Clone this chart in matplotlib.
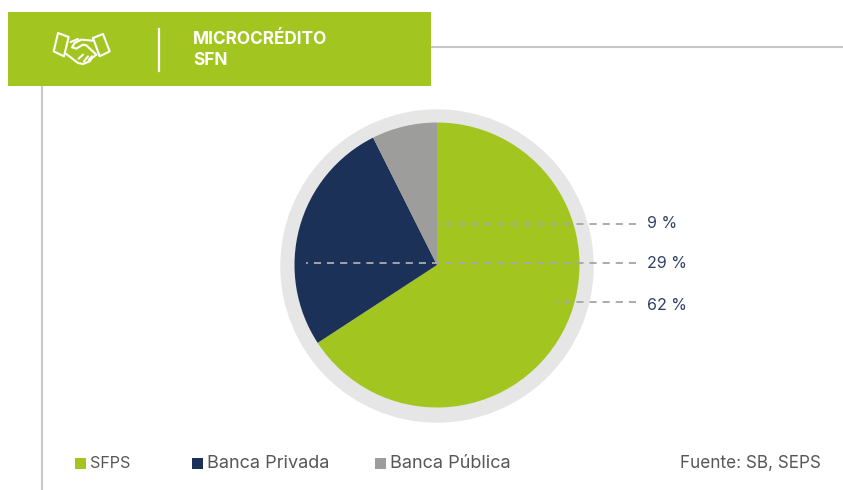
import matplotlib
matplotlib.use("Agg")
import matplotlib.pyplot as plt
from matplotlib.patches import Circle, Rectangle

plt.rcParams['font.family'] = ['Inter', 'DejaVu Sans']

# wedge shares as drawn in the picture (they differ from the printed labels)
categories = ["SFPS", "Banca Privada", "Banca Pública"]
shares = [65.8, 26.8, 7.4]
pct_labels = ["9 %", "29 %", "62 %"]
colors = ["#a2c61f", "#1c3158", "#9d9d9c"]

GREEN = "#a2c61f"
W, H = 843, 490


def Y(py):
    return H - py


fig = plt.figure(figsize=(W / 100, H / 100), dpi=100)
ax = fig.add_axes([0, 0, 1, 1])
ax.set_axis_off()

# frame lines behind the banner
ax.plot([41.5, 41.5], [Y(86), Y(490)], color="#c8c8c8", lw=1.5, zorder=1)
ax.plot([431, 843], [Y(47), Y(47)], color="#c8c8c8", lw=1.5, zorder=1)

# banner
ax.add_patch(Rectangle((8, Y(86)), 423, 74, facecolor=GREEN, edgecolor="none", zorder=2))
ax.plot([159, 159], [Y(29), Y(71.5)], color="white", lw=1.6, zorder=3)
ax.text(193, Y(40), "MICROCRÉDITO", color="white", fontsize=12.4, fontweight="bold",
        va="center", ha="left", zorder=3)
ax.text(193, Y(61), "SFN", color="white", fontsize=12.4, fontweight="bold",
        va="center", ha="left", zorder=3)

icon_lines = [
    [(30, 15), (62, 27), (48, 85), (17, 70), (30, 15)],
    [(135, 30), (165, 18), (185, 70), (155, 85), (135, 30)],
    [(135, 38), (100, 35), (80, 45), (72, 58), (85, 62), (105, 50), (115, 52),
     (145, 80), (130, 92), (125, 100), (105, 108), (90, 105), (55, 78)],
    [(68, 42), (90, 33)],
    [(92, 92), (105, 80)],
    [(108, 100), (120, 85)],
    [(122, 96), (132, 85)],
]
for pts in icon_lines:
    xs = [p[0] / 3 + 48 for p in pts]
    ys = [Y(p[1] / 3 + 28) for p in pts]
    ax.plot(xs, ys, color="white", lw=1.5, solid_capstyle="round",
            solid_joinstyle="round", zorder=3)

# pie with grey ring
ax.add_patch(Circle((437, Y(266)), 156.7, facecolor="#e6e6e6", edgecolor="none", zorder=1.5))
ax.pie(shares, colors=colors, startangle=90, counterclock=False,
       center=(437, Y(265)), radius=142.5, frame=True,
       wedgeprops={"linewidth": 0, "zorder": 3})

# leader lines and labels, dashes counted from the label end
leaders = [(437, 224), (306, 263), (555, 302)]
label_y = [223.5, 264, 305]
for (x0, ly), lab, ty in zip(leaders, pct_labels, label_y):
    ax.plot([636, x0], [Y(ly), Y(ly)], color="#a8a8a8", lw=1.35, dashes=(3.8, 3.2),
            dash_capstyle="butt", zorder=4)
    ax.text(647, Y(ty), lab, color="#2f3f66", fontsize=11.5, va="center", ha="left", zorder=4)

# legend
legend_x = [75, 192, 374.5]
legend_size = [11.6, 13, 13]
for x, c, name, fs in zip(legend_x, colors, categories, legend_size):
    ax.add_patch(Rectangle((x, Y(468.5)), 11, 11, facecolor=c, edgecolor="none", zorder=3))
    ax.text(x + 15, Y(463.5), name, color="#575756", fontsize=fs, va="center", ha="left", zorder=3)
ax.text(821, Y(463), "Fuente: SB, SEPS", color="#575756", fontsize=12.3, va="center", ha="right", zorder=3)

ax.set_xlim(0, W)
ax.set_ylim(0, H)
ax.set_aspect("auto")
fig.savefig("out.png", dpi=100)
